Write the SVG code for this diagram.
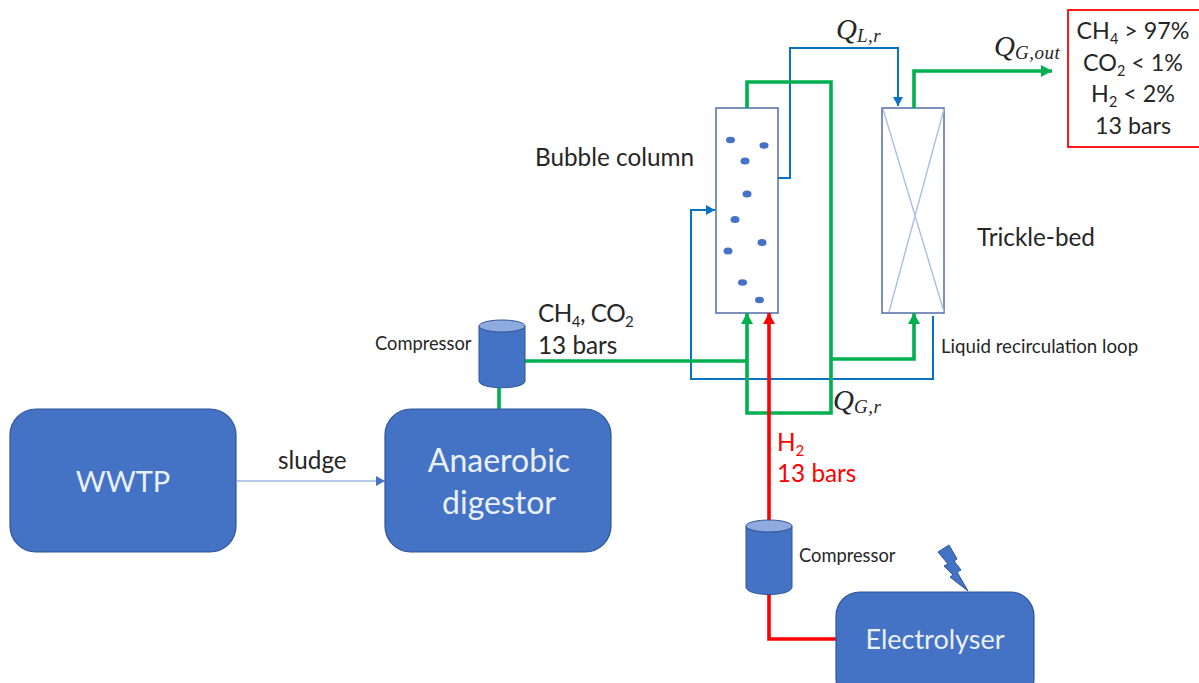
<svg xmlns="http://www.w3.org/2000/svg" width="1199" height="683" viewBox="0 0 1199 683">
<style>
text{font-family:Lato,"Open Sans","Liberation Sans",sans-serif;fill:#262626}
.box{fill:#4472c4;stroke:#2f5597;stroke-width:1.2}
.w{fill:#eaf0fa;font-size:32px;text-anchor:middle}
.s{font-size:18.300px}
.m{font-size:24.300px}
.n{font-size:23.300px;text-anchor:middle}
.q{font-family:"Liberation Serif",serif;font-style:italic;font-size:29px}
.qs{font-size:19px;letter-spacing:.5px}
.g{fill:none;stroke:#00b050;stroke-width:3.6}
.r{fill:none;stroke:#ff0000;stroke-width:3.6}
.b{fill:none;stroke:#0a72c2;stroke-width:2}
.col{fill:#fff;stroke:#5b76ab;stroke-width:1.6}
.d{fill:#4472c4}
.c{fill:#4472c4;stroke:#2f5597;stroke-width:1}
.t{fill:#8faadc;stroke:#2f5597;stroke-width:1}
.sub{font-size:62%}
</style>
<defs>
<marker id="ag" markerUnits="userSpaceOnUse" markerWidth="12" markerHeight="12" refX="11" refY="6" orient="auto"><path d="M0 0L11 6L0 12Z" fill="#00b050"/></marker>
<marker id="ar" markerUnits="userSpaceOnUse" markerWidth="12" markerHeight="12" refX="11" refY="6" orient="auto"><path d="M0 0L11 6L0 12Z" fill="#ff0000"/></marker>
<marker id="ab" markerUnits="userSpaceOnUse" markerWidth="10" markerHeight="10" refX="9" refY="5" orient="auto"><path d="M0 0L9 5L0 10Z" fill="#0a72c2"/></marker>
<marker id="at" markerUnits="userSpaceOnUse" markerWidth="10" markerHeight="10" refX="9" refY="5" orient="auto"><path d="M0 0L9 5L0 10Z" fill="#4472c4"/></marker>
</defs>

<g id="bubble-column">
<rect class="col" x="716" y="108" width="62" height="205"/>
<ellipse class="d" cx="730.500" cy="140" rx="4.500" ry="3.200"/>
<ellipse class="d" cx="764" cy="145.500" rx="4.500" ry="3.200"/>
<ellipse class="d" cx="745" cy="161" rx="4.500" ry="3.500"/>
<ellipse class="d" cx="747" cy="194" rx="4.500" ry="3.500"/>
<ellipse class="d" cx="735" cy="219.500" rx="4.500" ry="3.500"/>
<ellipse class="d" cx="762" cy="242.500" rx="4.500" ry="3.500"/>
<ellipse class="d" cx="728" cy="251" rx="4.500" ry="3.500"/>
<ellipse class="d" cx="742.500" cy="282.500" rx="4.500" ry="3.200"/>
<ellipse class="d" cx="759.500" cy="300" rx="4.500" ry="3.200"/>
<text class="m" x="535" y="166">Bubble column</text>
</g>

<g id="trickle-bed">
<rect class="col" x="882" y="108" width="62" height="205"/>
<path d="M883 109L944 312M944 109L889 312" fill="none" stroke="#a9bfe6" stroke-width="1.400"/>
<text class="m" x="977" y="246">Trickle-bed</text>
</g>

<g id="connectors">
<path class="b" d="M778 178H790V48H898V106" marker-end="url(#ab)"/>
<path class="b" d="M933 316V379H691V210H715" marker-end="url(#ab)"/>
<path class="g" d="M747 108V82H831V413H747V313" marker-end="url(#ag)"/>
<path class="g" d="M914 108V71H1052" marker-end="url(#ag)"/>
<path class="g" d="M831 359H914V313" marker-end="url(#ag)"/>
<path class="g" d="M525 361H747"/>
<path class="g" d="M499 388V409"/>
<path class="r" d="M769 520V313" marker-end="url(#ar)"/>
<path class="r" d="M769 595V639H836"/>
<path d="M237 481H385" fill="none" stroke="#6f94d2" stroke-width="1.200" marker-end="url(#at)"/>
</g>

<g id="wwtp">
<rect class="box" x="10" y="409" width="226" height="143" rx="26"/>
<text class="w" x="123" y="492" style="font-size:29px">WWTP</text>
</g>

<g id="anaerobic-digestor">
<rect class="box" x="385" y="409" width="226" height="143" rx="26"/>
<text class="w" x="499" y="472">Anaerobic</text>
<text class="w" x="499" y="514">digestor</text>
</g>

<g id="compressor-1">
<path class="c" d="M479 326V381C479 390 525 390 525 381V326Z"/>
<ellipse class="t" cx="502" cy="326" rx="23" ry="6"/>
<text class="s" x="375" y="350">Compressor</text>
</g>

<g id="compressor-2">
<path class="c" d="M746 526V587C746 597 792 597 792 587V526Z"/>
<ellipse class="t" cx="769" cy="526" rx="23" ry="6"/>
<text class="s" x="799" y="562">Compressor</text>
</g>

<g id="electrolyser">
<path class="c" d="M938 552L949 545L957 559L954 561L961 570L957 572L968 591L950 577L953 575L944 566L948 564Z"/>
<rect class="box" x="836" y="592" width="198" height="110" rx="24"/>
<text x="935" y="649" text-anchor="middle" font-size="27" style="fill:#eaf0fa">Electrolyser</text>
</g>

<g id="output-spec">
<rect x="1068" y="10" width="140" height="137" fill="#fff" stroke="#ff0000" stroke-width="1.800"/>
<text class="n" x="1133" y="39">CH<tspan class="sub" dy="5">4</tspan><tspan dy="-5"> &gt; 97%</tspan></text>
<text class="n" x="1133" y="71">CO<tspan class="sub" dy="5">2</tspan><tspan dy="-5"> &lt; 1%</tspan></text>
<text class="n" x="1133" y="102">H<tspan class="sub" dy="5">2</tspan><tspan dy="-5"> &lt; 2%</tspan></text>
<text class="n" x="1133" y="134">13 bars</text>
</g>

<g id="labels">
<text class="m" x="278" y="469">sludge</text>
<text class="m" x="538" y="322" letter-spacing="-.5">CH<tspan class="sub" dy="5">4</tspan><tspan dy="-5">, CO</tspan><tspan class="sub" dy="5">2</tspan></text>
<text class="m" x="538" y="354">13 bars</text>
<text class="m" x="777" y="451" style="fill:#ff0000">H<tspan class="sub" dy="5">2</tspan></text>
<text class="m" x="777" y="482" style="fill:#ff0000">13 bars</text>
<text class="s" x="941" y="353" style="font-size:18.700px">Liquid recirculation loop</text>
<text class="q" x="836" y="39">Q<tspan class="qs" dy="3">L,r</tspan></text>
<text class="q" x="994" y="56">Q<tspan class="qs" dy="3">G,out</tspan></text>
<text class="q" x="833" y="410">Q<tspan class="qs" dy="3">G,r</tspan></text>
</g>
</svg>
